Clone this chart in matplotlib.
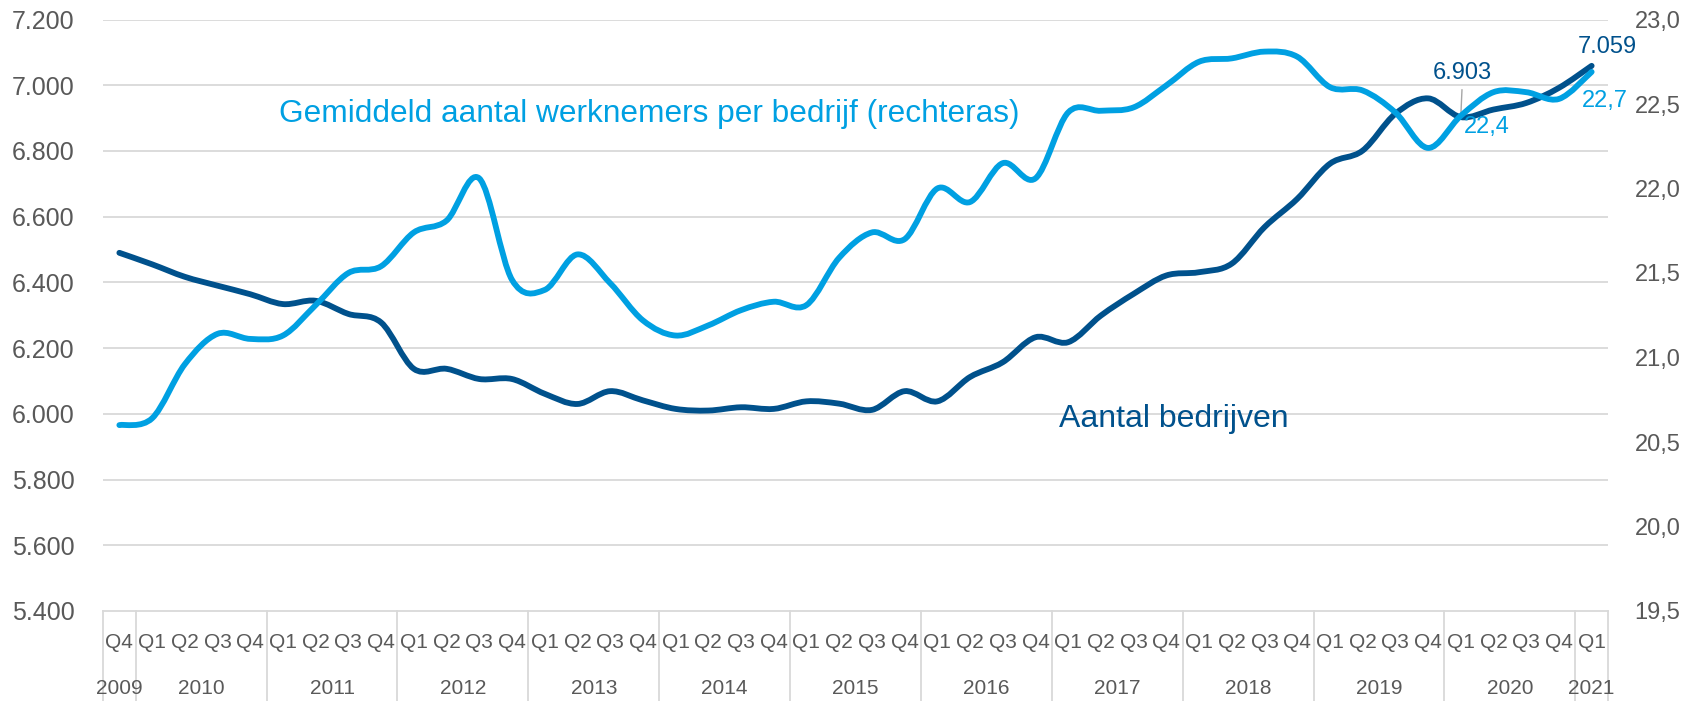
import matplotlib
matplotlib.use("Agg")
import matplotlib.pyplot as plt
import matplotlib.transforms as mtransforms
from matplotlib.path import Path
from matplotlib.patches import PathPatch
from matplotlib.lines import Line2D
import numpy as np

# ---------------- data ----------------
quarters = ["Q4"] + ["Q1", "Q2", "Q3", "Q4"] * 11 + ["Q1"]
years = ["2009", "2010", "2011", "2012", "2013", "2014", "2015", "2016",
         "2017", "2018", "2019", "2020", "2021"]
year_sizes = [1] + [4] * 11 + [1]

aantal_bedrijven = [6490, 6455, 6417, 6390, 6364, 6334, 6344, 6304, 6278, 6137,
                    6137, 6106, 6106, 6061, 6030, 6069, 6041, 6015, 6010, 6020,
                    6015, 6038, 6031, 6012, 6069, 6038, 6112, 6157, 6233, 6218,
                    6299, 6365, 6421, 6431, 6457, 6568, 6654, 6761, 6801, 6913,
                    6960, 6903, 6926, 6946, 6992, 7059]
gem_werknemers = [20.60, 20.64, 20.96, 21.14, 21.11, 21.13, 21.31, 21.50, 21.54, 21.74,
                  21.81, 22.06, 21.46, 21.40, 21.61, 21.44, 21.22, 21.13, 21.19, 21.28,
                  21.33, 21.31, 21.59, 21.74, 21.70, 22.00, 21.92, 22.15, 22.06, 22.45,
                  22.46, 22.48, 22.61, 22.75, 22.77, 22.81, 22.78, 22.60, 22.58, 22.45,
                  22.24, 22.43, 22.57, 22.57, 22.53, 22.69]

left_ticks = [5400, 5600, 5800, 6000, 6200, 6400, 6600, 6800, 7000, 7200]
right_ticks = [19.5, 20.0, 20.5, 21.0, 21.5, 22.0, 22.5, 23.0]

DARK = "#00518C"
LIGHT = "#00A0E2"
GRID = "#D9D9D9"
TXT = "#595959"
FONT = "Liberation Sans"


def smooth_path(xs, ys):
    pts = np.column_stack([xs, ys]).astype(float)
    n = len(pts)
    verts = [pts[0]]
    codes = [Path.MOVETO]
    for i in range(n - 1):
        p0 = pts[i - 1] if i > 0 else pts[i]
        p1 = pts[i]
        p2 = pts[i + 1]
        p3 = pts[i + 2] if i + 2 < n else pts[i + 1]
        c1 = p1 + (p2 - p0) / 6.0
        c2 = p2 - (p3 - p1) / 6.0
        verts += [c1, c2, p2]
        codes += [Path.CURVE4] * 3
    return Path(verts, codes)


fig = plt.figure(figsize=(16.98, 7.01), dpi=100)
L, R = 103 / 1698, 1608 / 1698
B, T = (701 - 611) / 701, (701 - 19.5) / 701
ax = fig.add_axes([L, B, R - L, T - B])
ax2 = ax.twinx()

n = len(quarters)
x = np.arange(n)

ax.set_xlim(-0.5, n - 0.5)
ax.set_ylim(5400, 7200)
ax2.set_ylim(19.5, 23.0)

# grid
for v in left_ticks[1:]:
    ax.axhline(v, color=GRID, lw=1.3, zorder=0)
for a in (ax, ax2):
    for s in a.spines.values():
        s.set_visible(False)
ax.spines["bottom"].set_visible(True)
ax.spines["bottom"].set_color(GRID)
ax.spines["bottom"].set_linewidth(1.3)

# lines
p1 = PathPatch(smooth_path(x, aantal_bedrijven), fill=False, edgecolor=DARK,
               lw=4.2, capstyle="round", joinstyle="round", transform=ax.transData, zorder=3)
ax.add_patch(p1)
p2 = PathPatch(smooth_path(x, gem_werknemers), fill=False, edgecolor=LIGHT,
               lw=4.2, capstyle="round", joinstyle="round", transform=ax2.transData, zorder=3)
ax2.add_patch(p2)

# y ticks
ax.set_yticks(left_ticks)
ax.set_yticklabels([f"{v:,}".replace(",", ".") for v in left_ticks])
ax.tick_params(axis="y", length=0, pad=20.5, labelsize=18, labelcolor=TXT)
ax2.set_yticks(right_ticks)
ax2.set_yticklabels([f"{v:.1f}".replace(".", ",") for v in right_ticks])
ax2.tick_params(axis="y", length=0, pad=19, labelsize=17, labelcolor=TXT)
for lab in ax.get_yticklabels() + ax2.get_yticklabels():
    lab.set_fontfamily(FONT)

# category axis
ax.set_xticks([])
trans = mtransforms.blended_transform_factory(ax.transData, ax.transAxes)
axh = 611 - 19.5
for i, q in enumerate(quarters):
    ax.text(i, -31 / axh, q, transform=trans, ha="center", va="center",
            fontsize=15, color=TXT, family=FONT)
start = 0
seps = [-0.5]
for yr, sz in zip(years, year_sizes):
    center = start + (sz - 1) / 2
    ax.text(center, -78 / axh, yr, transform=trans, ha="center", va="center",
            fontsize=15, color=TXT, family=FONT)
    start += sz
    seps.append(start - 0.5)
for s in seps:
    ax.add_line(Line2D([s, s], [0, -90 / axh], transform=trans, color=GRID,
                       lw=1.3, clip_on=False))

# series labels
ax.text((279 - 103) / 1505, (611 - 114) / axh,
        "Gemiddeld aantal werknemers per bedrijf (rechteras)",
        transform=ax.transAxes, ha="left", va="center", fontsize=22.8,
        color=LIGHT, family=FONT)
ax.text((1059 - 103) / 1505, (611 - 419) / axh, "Aantal bedrijven",
        transform=ax.transAxes, ha="left", va="center", fontsize=23,
        color=DARK, family=FONT)

# data labels
def nl_int(v):
    return f"{v:,}".replace(",", ".")

ax.annotate(nl_int(aantal_bedrijven[41]), xy=(41, aantal_bedrijven[41]),
            xytext=(1.4, 31.7), textcoords="offset points", ha="center", va="center",
            fontsize=17, color=DARK, family=FONT, zorder=5,
            arrowprops=dict(arrowstyle="-", color="#A6A6A6", lw=1, shrinkA=2, shrinkB=0))
ax.annotate(nl_int(aantal_bedrijven[45]), xy=(45, aantal_bedrijven[45]),
            xytext=(11, 13.7), textcoords="offset points", ha="center", va="center",
            fontsize=17, color=DARK, family=FONT, zorder=5, annotation_clip=False)
ax2.annotate(f"{gem_werknemers[41]:.1f}".replace(".", ","), xy=(41, gem_werknemers[41]),
             xytext=(18.7, -8), textcoords="offset points", ha="center", va="center",
             fontsize=17, color=LIGHT, family=FONT, zorder=5)
ax2.annotate(f"{gem_werknemers[45]:.1f}".replace(".", ","), xy=(45, gem_werknemers[45]),
             xytext=(9.4, -21), textcoords="offset points", ha="center", va="center",
             fontsize=17, color=LIGHT, family=FONT, zorder=5, annotation_clip=False)

fig.savefig("out.png", dpi=100, facecolor="white")
